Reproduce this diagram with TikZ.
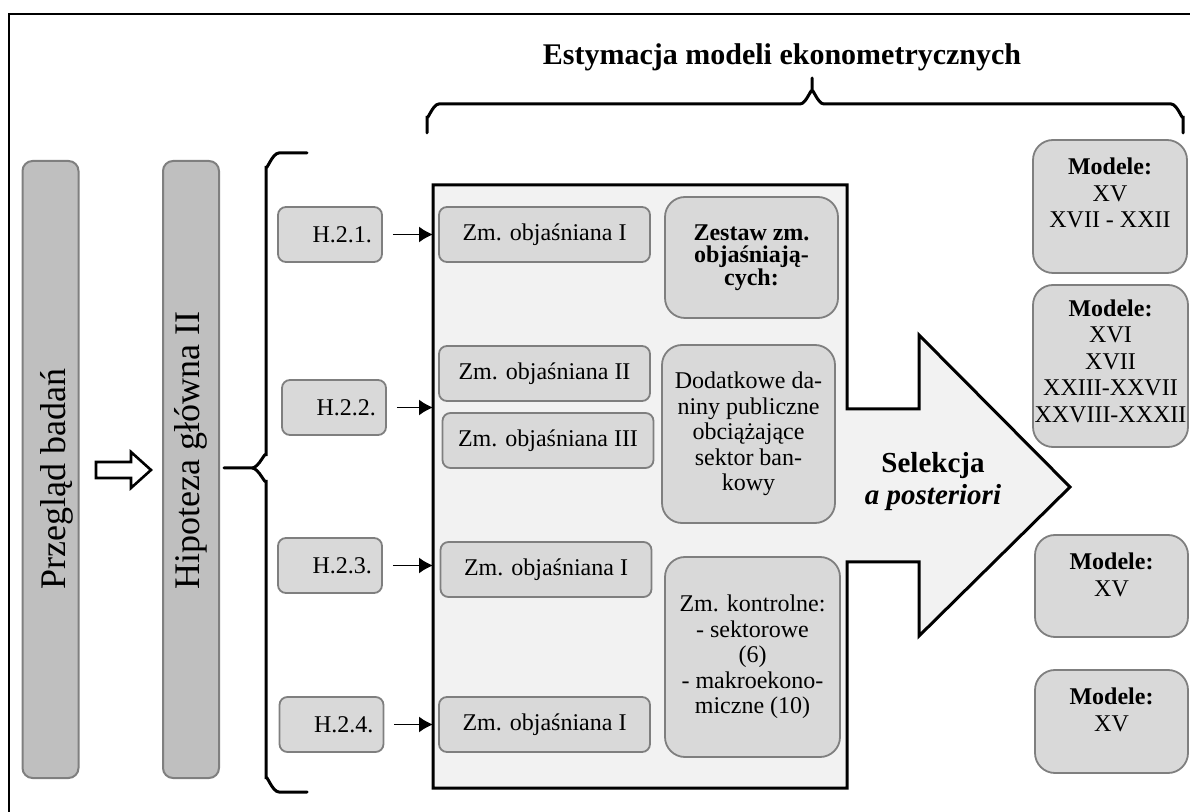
\documentclass[tikz,border=0pt]{standalone}
\usepackage{fontspec}
\setmainfont{Liberation Serif}
\usetikzlibrary{arrows.meta,positioning}
\definecolor{barfill}{HTML}{BFBFBF}
\definecolor{boxfill}{HTML}{D9D9D9}
\definecolor{panelfill}{HTML}{F2F2F2}
\definecolor{boxline}{HTML}{7F7F7F}
\tikzset{
	bar/.style={draw=boxline, line width=1pt, fill=barfill, rounded corners=5pt, minimum width=28pt, minimum height=308.5pt},
	smallbox/.style={draw=boxline, line width=0.9pt, fill=boxfill, rounded corners=4pt, minimum height=27.5pt},
	hbox/.style={smallbox, text width=42pt, inner xsep=4pt, minimum width=52pt, align=right},
	varbox/.style={smallbox, minimum width=105.5pt},
	setbox/.style={draw=boxline, line width=0.9pt, fill=boxfill, rounded corners=10pt, align=center, inner sep=0pt},
	modelbox/.style={setbox, minimum width=77pt},
	modeltext/.style={align=center, inner sep=0pt, font=\fontsize{12}{13.3}\selectfont},
	vtext/.style={rotate=90, anchor=west, inner sep=0pt, font=\fontsize{18}{20}\selectfont},
	brace/.style={line width=1.5pt, line cap=round},
}

\begin{document}
\begin{tikzpicture}[x=0.5pt, y=-0.5pt, every node/.style={font=\fontsize{12}{12.8}\selectfont}, >={Latex[length=7pt,width=8pt]}]
	\path[use as bounding box, clip] (0,0) rectangle (1190,812);
	\draw[line width=1.2pt] (9,14) rectangle (1300,900);
	
	% left bars
	\node[bar] (review) at (50.5,469.5) {};
	\node[bar] (hyp) at (191,469.5) {};
	\node[vtext] (reviewtxt) at (57,590) {Przegląd badań};
	\node[vtext] (hyptxt) at (191,590) {Hipoteza główna II};
	\draw[line width=1.3pt, fill=white] (96,462) -- (131,462) -- (131,452) -- (151,470) -- (131,488) -- (131,478) -- (96,478) -- cycle;
	
	% braces
	\draw[brace] (307,153) -- (279,153) to[out=180,in=-90] (266,166) -- (266,456) to[out=90,in=0] (252,468) -- (224,468)
		(252,468) to[out=0,in=-90] (266,480) -- (266,779) to[out=90,in=180] (279,792) -- (307,792);
	\draw[brace] (427,133) -- (427,116) to[out=-90,in=180] (439,104) -- (800,104) to[out=0,in=90] (812,92) -- (812,78)
		(812,92) to[out=90,in=180] (824,104) -- (1171,104) to[out=0,in=-90] (1183,116) -- (1183,133);
	\node[font=\bfseries\fontsize{15}{17}\selectfont] (title) at (782,57) {Estymacja modeli ekonometrycznych};
	
	% panel with selection arrow
	\draw[line width=1.5pt, fill=panelfill] (433,185) -- (847,185) -- (847,409) -- (919,409) -- (919,335) -- (1070,487)
		-- (919,636) -- (919,562) -- (847,562) -- (847,788) -- (433,788) -- cycle;
	\coordinate (panel) at (433,185);
	\node[font=\bfseries\fontsize{14.5}{16}\selectfont, align=center] (select) at (933,482) {Selekcja\\\textit{a posteriori}};
	
	% hypotheses
	\foreach \n/\x/\y in {1/330/234.5, 2/334/407.5, 3/330/565.5, 4/331.5/724.5} {
		\node[hbox] (h\n) at (\x,\y) {H.2.\n.};
		\draw[->, line width=0.8pt] ([xshift=5pt]h\n.east) -- (h\n.east -| panel);
	}
	
	% dependent variables
	\node[varbox] (v1) at (544.5,234.5) {Zm. objaśniana I};
	\node[varbox] (v2) at (544.5,373.5) {Zm. objaśniana II};
	\node[varbox] (v3) at (548,440.5) {Zm. objaśniana III};
	\node[varbox] (v4) at (546,569.5) {Zm. objaśniana I};
	\node[varbox] (v5) at (544.5,724.5) {Zm. objaśniana I};
	
	% explanatory sets
	\node[setbox, minimum width=86.5pt, minimum height=60.5pt, font=\bfseries\fontsize{12}{11.3}\selectfont] (s1) at (751.5,257.5) {Zestaw zm.\\objaśniają-\\cych:};
	\node[setbox, minimum width=86.5pt, minimum height=89pt] (s2) at (748.5,434) {Dodatkowe da-\\niny publiczne\\obciążające\\sektor ban-\\kowy};
	\node[setbox, minimum width=87.5pt, minimum height=100pt] (s3) at (752.5,657) {Zm. kontrolne:\\- sektorowe\\(6)\\- makroekono-\\miczne (10)};
	
	% models
	\node[modelbox, minimum height=66.5pt] (m1) at (1110,206.5) {};
	\node[modeltext, below=9.3pt of m1.north] (m1t) {\textbf{Modele:}\\XV\\XVII - XXII};
	\node[modelbox, minimum width=77.5pt, minimum height=81pt] (m2) at (1110.5,366) {};
	\node[modeltext, below=7.5pt of m2.north] (m2t) {\textbf{Modele:}\\XVI\\XVII\\XXIII-XXVII\\XXVIII-XXXII};
	\node[modelbox, minimum width=76.5pt, minimum height=51pt] (m3) at (1111.5,586) {};
	\node[modeltext, below=9.3pt of m3.north] (m3t) {\textbf{Modele:}\\XV};
	\node[modelbox, minimum width=76.5pt, minimum height=51.5pt] (m4) at (1111.5,721.5) {};
	\node[modeltext, below=9.3pt of m4.north] (m4t) {\textbf{Modele:}\\XV};
	
\end{tikzpicture}
\end{document}
